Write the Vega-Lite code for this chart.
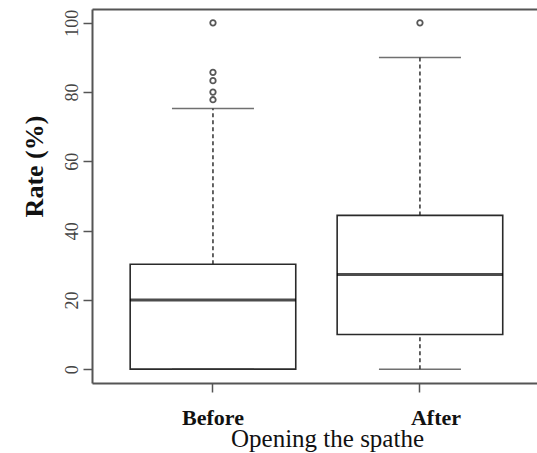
{
  "$schema": "https://vega.github.io/schema/vega-lite/v6.json",
  "autosize": {"type": "none"},
  "padding": {"left": 92, "top": 9, "right": 0, "bottom": 70},
  "width": 445,
  "height": 374,
  "background": "white",
  "config": {
    "view": {"stroke": null},
    "font": "Liberation Serif"
  },
  "datasets": {
    "stats": [
      {"group": "Before", "lower": 0, "q1": 0, "median": 20, "q3": 30.3, "upper": 75.3},
      {"group": "After", "lower": 0, "q1": 10, "median": 27.3, "q3": 44.4, "upper": 90}
    ],
    "outliers": [
      {"group": "Before", "rate": 100},
      {"group": "Before", "rate": 85.7},
      {"group": "Before", "rate": 83.3},
      {"group": "Before", "rate": 80},
      {"group": "Before", "rate": 77.8},
      {"group": "After", "rate": 100}
    ]
  },
  "resolve": {"axis": {"x": "independent", "y": "independent"}},
  "layer": [
    {
      "data": {"name": "stats"},
      "mark": {"type": "rule", "stroke": "#222", "strokeWidth": 1.4, "strokeDash": [4, 3]},
      "encoding": {
        "x": {"field": "group", "type": "nominal", "axis": null},
        "y": {"field": "q3", "type": "quantitative", "axis": null},
        "y2": {"field": "upper"}
      }
    },
    {
      "data": {"name": "stats"},
      "mark": {"type": "rule", "stroke": "#222", "strokeWidth": 1.4, "strokeDash": [4, 3]},
      "encoding": {
        "x": {"field": "group", "type": "nominal", "axis": null},
        "y": {"field": "lower", "type": "quantitative", "axis": null},
        "y2": {"field": "q1"}
      }
    },
    {
      "data": {"name": "stats"},
      "mark": {"type": "bar", "fill": "white", "stroke": "#2a2a2a", "strokeWidth": 1.6},
      "encoding": {
        "x": {
          "field": "group",
          "type": "nominal",
          "sort": ["Before", "After"],
          "scale": {"type": "band", "domain": ["Before", "After"], "paddingInner": 0.2, "paddingOuter": 0.175, "align": 0.527},
          "axis": {
            "orient": "bottom",
            "title": "Opening the spathe",
            "titleFont": "Liberation Serif",
            "titleFontSize": 25,
            "titleFontWeight": "normal",
            "titleColor": "#111",
            "titleAlign": "center",
            "titleBaseline": "alphabetic",
            "titleX": 235,
            "titleY": 63,
            "labelFont": "Liberation Serif",
            "labelFontSize": 22,
            "labelFontWeight": "bold",
            "labelColor": "#111",
            "labelAngle": 0,
            "labelBaseline": "alphabetic",
            "labelPadding": 32,
            "labelOffset": {"condition": {"test": "datum.value === 'After'", "value": 16}, "value": 0},
            "domainColor": "#555",
            "domainWidth": 2,
            "tickColor": "#555",
            "tickWidth": 1.5,
            "tickSize": 9,
            "grid": false
          }
        },
        "y": {
          "field": "q1",
          "type": "quantitative",
          "scale": {"domain": [-4, 104], "nice": false, "zero": false},
          "axis": {
            "orient": "left",
            "values": [0, 20, 40, 60, 80, 100],
            "title": "Rate (%)",
            "titleFont": "Liberation Serif",
            "titleFontSize": 26,
            "titleFontWeight": "bold",
            "titleColor": "#111",
            "titleAngle": -90,
            "titleAlign": "center",
            "titleBaseline": "alphabetic",
            "titleX": -50,
            "titleY": 157,
            "labelFont": "Liberation Serif",
            "labelFontSize": 18,
            "labelColor": "#444",
            "labelAngle": -90,
            "labelAlign": "center",
            "labelBaseline": "alphabetic",
            "labelPadding": 6,
            "domainColor": "#555",
            "domainWidth": 2,
            "tickColor": "#555",
            "tickWidth": 1.5,
            "tickSize": 9,
            "grid": false
          }
        },
        "y2": {"field": "q3"}
      }
    },
    {
      "data": {"name": "stats"},
      "mark": {"type": "tick", "color": "#000", "thickness": 3, "size": 166},
      "encoding": {
        "x": {"field": "group", "type": "nominal", "axis": null},
        "y": {"field": "median", "type": "quantitative", "axis": null}
      }
    },
    {
      "data": {"name": "stats"},
      "mark": {"type": "tick", "color": "#333", "thickness": 1.5, "size": 82},
      "encoding": {
        "x": {"field": "group", "type": "nominal", "axis": null},
        "y": {"field": "upper", "type": "quantitative", "axis": null}
      }
    },
    {
      "data": {"name": "stats"},
      "mark": {"type": "tick", "color": "#333", "thickness": 1.5, "size": 82},
      "encoding": {
        "x": {"field": "group", "type": "nominal", "axis": null},
        "y": {"field": "lower", "type": "quantitative", "axis": null}
      }
    },
    {
      "data": {"name": "outliers"},
      "mark": {"type": "point", "shape": "circle", "filled": false, "stroke": "#111", "strokeWidth": 1.8, "size": 30},
      "encoding": {
        "x": {
          "field": "group",
          "type": "nominal",
          "axis": {"orient": "top", "labels": false, "ticks": false, "title": null, "domain": true, "domainColor": "#555", "domainWidth": 2, "grid": false}
        },
        "y": {"field": "rate", "type": "quantitative", "axis": null}
      }
    }
  ]
}
